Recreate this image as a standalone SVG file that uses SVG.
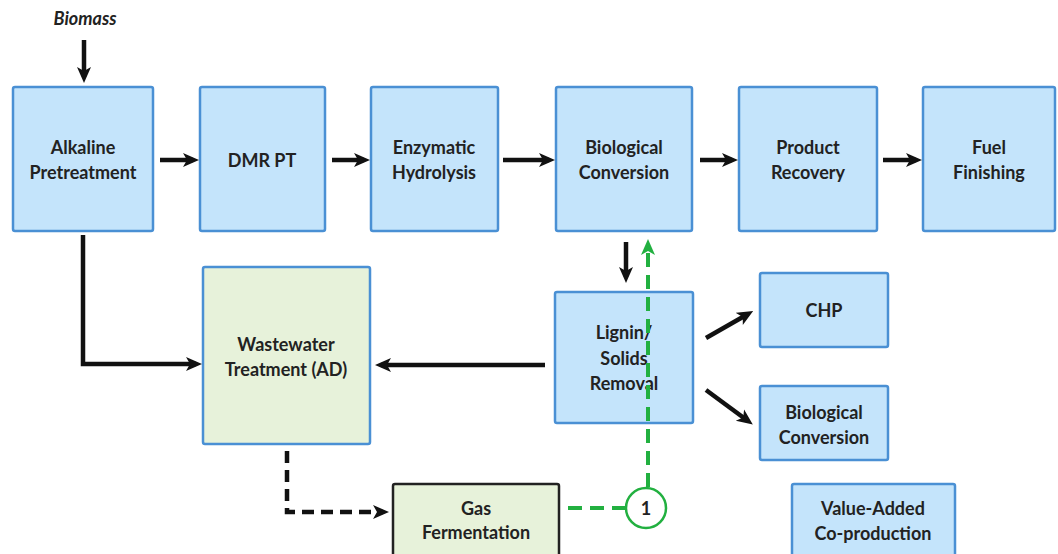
<svg xmlns="http://www.w3.org/2000/svg" width="1058" height="554" viewBox="0 0 1058 554">
<defs>
<style>
.b{fill:#c4e4fb;stroke:#4a90d4;stroke-width:2.5}
.g{fill:#e7f2da;stroke:#4a90d4;stroke-width:2.5}
.gd{fill:#e7f2da;stroke:#222;stroke-width:2.5}
text{font-family:Lato,"Open Sans",sans-serif;font-weight:bold;font-size:18px;fill:#222;text-anchor:middle}
.k{fill:none;stroke:#111;stroke-width:4.5}
.kd{fill:none;stroke:#111;stroke-width:4.5;stroke-dasharray:12 7}
.gr{fill:none;stroke:#22b040;stroke-width:4}
.grd{stroke-dasharray:14 8}
</style>
<marker id="ak" markerUnits="userSpaceOnUse" markerWidth="16" markerHeight="16" viewBox="0 0 16 16" refX="10" refY="8" orient="auto"><path d="M0,1 L16,8 L0,15 L4,8 Z" fill="#111"/></marker>
<marker id="ag" markerUnits="userSpaceOnUse" markerWidth="16" markerHeight="16" viewBox="0 0 16 16" refX="10" refY="8" orient="auto"><path d="M0,1 L16,8 L0,15 L4,8 Z" fill="#22b040"/></marker>
</defs>
<rect width="1058" height="554" fill="#fff"/>
<g id="biomass"><text x="85" y="25" font-style="italic" font-size="17">Biomass</text></g>
<g id="alkaline"><rect class="b" x="13" y="87" width="140" height="144" rx="2"/><text x="83" y="154">Alkaline</text><text x="83" y="179">Pretreatment</text></g>
<g id="dmr"><rect class="b" x="200" y="87" width="125" height="144" rx="2"/><text x="262" y="167">DMR PT</text></g>
<g id="enzymatic"><rect class="b" x="371" y="87" width="127" height="144" rx="2"/><text x="434" y="154">Enzymatic</text><text x="434" y="179">Hydrolysis</text></g>
<g id="bioconv"><rect class="b" x="556" y="87" width="136" height="144" rx="2"/><text x="624" y="154">Biological</text><text x="624" y="179">Conversion</text></g>
<g id="product"><rect class="b" x="739" y="87" width="138" height="144" rx="2"/><text x="808" y="154">Product</text><text x="808" y="179">Recovery</text></g>
<g id="fuel"><rect class="b" x="923" y="87" width="132" height="144" rx="2"/><text x="989" y="154">Fuel</text><text x="989" y="179">Finishing</text></g>
<g id="wastewater"><rect class="g" x="203" y="267" width="167" height="177" rx="2"/><text x="286" y="351">Wastewater</text><text x="286" y="376">Treatment (AD)</text></g>
<g id="lignin"><rect class="b" x="555" y="292" width="138" height="131" rx="2"/><text x="624" y="339">Lignin/</text><text x="624" y="365">Solids</text><text x="624" y="390">Removal</text></g>
<g id="chp"><rect class="b" x="760" y="273" width="128" height="74" rx="2"/><text x="824" y="317">CHP</text></g>
<g id="bioconv2"><rect class="b" x="760" y="386" width="128" height="74" rx="2"/><text x="824" y="419">Biological</text><text x="824" y="444">Conversion</text></g>
<g id="valueadded"><rect class="b" x="792" y="484" width="163" height="80" rx="2"/><text x="873" y="515">Value-Added</text><text x="873" y="540">Co-production</text></g>
<g id="gasferm"><rect class="gd" x="393" y="484" width="166" height="80" rx="2"/><text x="476" y="515">Gas</text><text x="476" y="539">Fermentation</text></g>
<g id="connectors">
<line class="k" x1="84" y1="40" x2="84" y2="77" marker-end="url(#ak)"/>
<line class="k" x1="160" y1="160" x2="193" y2="160" marker-end="url(#ak)"/>
<line class="k" x1="332" y1="160" x2="364" y2="160" marker-end="url(#ak)"/>
<line class="k" x1="503" y1="160" x2="549" y2="160" marker-end="url(#ak)"/>
<line class="k" x1="700" y1="160" x2="732" y2="160" marker-end="url(#ak)"/>
<line class="k" x1="883" y1="160" x2="916" y2="160" marker-end="url(#ak)"/>
<polyline class="k" points="83,235 83,364 196,364" marker-end="url(#ak)"/>
<line class="k" x1="545" y1="365" x2="381" y2="365" marker-end="url(#ak)"/>
<line class="k" x1="626" y1="242" x2="626" y2="277" marker-end="url(#ak)"/>
<line class="k" x1="706" y1="338" x2="748" y2="314" marker-end="url(#ak)"/>
<line class="k" x1="706" y1="390" x2="748" y2="421" marker-end="url(#ak)"/>
<polyline class="kd" points="287,451 287,512 383,512" marker-end="url(#ak)"/>
<line class="gr grd" x1="568" y1="508" x2="625" y2="508"/>
<line class="gr grd" x1="648" y1="487" x2="648" y2="245" marker-end="url(#ag)"/>
</g>
<g id="marker1"><circle cx="646" cy="508" r="20" fill="#fff" stroke="#22b040" stroke-width="2.5"/><text x="646" y="515" font-size="19">1</text></g>
</svg>
